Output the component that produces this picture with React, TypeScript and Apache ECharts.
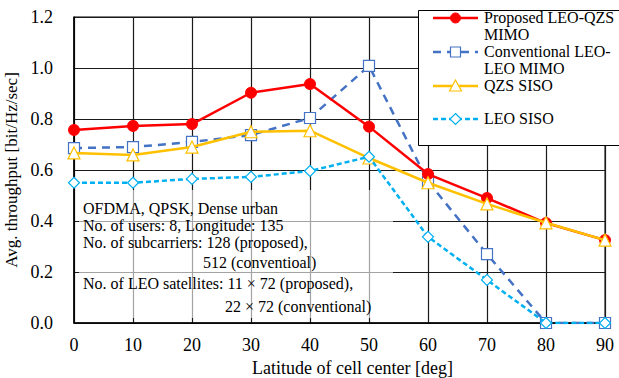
import React, { useEffect, useRef } from "react";
import * as echarts from "echarts";

const latitudes = [0, 10, 20, 30, 40, 50, 60, 70, 80, 90];
const proposedMimo = [0.757, 0.773, 0.78, 0.903, 0.937, 0.77, 0.584, 0.49, 0.392, 0.325];
const conventionalMimo = [0.686, 0.69, 0.71, 0.737, 0.804, 1.008, 0.555, 0.27, 0, 0];
const qzsSiso = [0.667, 0.659, 0.69, 0.75, 0.754, 0.647, 0.55, 0.467, 0.393, 0.325];
const leoSiso = [0.55, 0.55, 0.565, 0.573, 0.596, 0.652, 0.338, 0.169, 0, 0];

const seriesNames = [
  "Proposed LEO-QZS\nMIMO",
  "Conventional LEO-\nLEO MIMO",
  "QZS SISO",
  "LEO SISO",
];

const noteLines = [
  "OFDMA, QPSK, Dense urban",
  "No. of users: 8, Longitude: 135",
  "No. of subcarriers: 128 (proposed),",
  "512 (conventioal)",
  "No. of LEO satellites: 11 \u00d7 72 (proposed),",
  "22 \u00d7 72 (conventional)",
];

const FAM = "Liberation Serif";
const RED = "#ff0000";
const BLUE = "#4472c4";
const YELLOW = "#ffc000";
const CYAN = "#00b0f0";

const pairs = (ys: number[]) => latitudes.map((x, i) => [x, ys[i]]);

export default function App() {
  const ref = useRef<HTMLDivElement>(null);
  useEffect(() => {
    if (!ref.current) return;
    const chart = echarts.init(ref.current, undefined, { renderer: "svg" });

    const notePos = [
      [83, 208],
      [83, 225],
      [83, 242],
      [203, 262],
      [83, 283],
      [225, 306],
    ];
    const noteGraphics = noteLines.map((t, i) => ({
      type: "text",
      x: notePos[i][0],
      y: notePos[i][1],
      z: 5,
      style: {
        text: t,
        fontFamily: FAM,
        fontSize: 16,
        fill: "#000",
        verticalAlign: "middle",
      },
    }));

    const legendRows = [18, 52, 86, 119];
    const lx1 = 433, lx2 = 478, lmx = 455.5, ltx = 484;
    const legendGraphics: any[] = [
      {
        type: "rect",
        z: 10,
        shape: { x: 418.5, y: 10.5, width: 220, height: 135 },
        style: { fill: "#fff", stroke: "#000", lineWidth: 1 },
      },
      { type: "line", z: 11, shape: { x1: lx1, y1: legendRows[0], x2: lx2, y2: legendRows[0] }, style: { stroke: RED, lineWidth: 2.5 } },
      { type: "circle", z: 12, shape: { cx: lmx, cy: legendRows[0], r: 5 }, style: { fill: RED, stroke: RED } },
      { type: "line", z: 11, shape: { x1: lx1, y1: legendRows[1], x2: lx2, y2: legendRows[1] }, style: { stroke: BLUE, lineWidth: 2.5, lineDash: [8, 6] } },
      { type: "rect", z: 12, shape: { x: lmx - 5, y: legendRows[1] - 5, width: 10, height: 10 }, style: { fill: "#fff", stroke: BLUE, lineWidth: 1.2 } },
      { type: "line", z: 11, shape: { x1: lx1, y1: legendRows[2], x2: lx2, y2: legendRows[2] }, style: { stroke: YELLOW, lineWidth: 2.5 } },
      { type: "polygon", z: 12, shape: { points: [[lmx, legendRows[2] - 6], [lmx + 6, legendRows[2] + 5], [lmx - 6, legendRows[2] + 5]] }, style: { fill: "#fff", stroke: YELLOW, lineWidth: 1.2 } },
      { type: "line", z: 11, shape: { x1: lx1, y1: legendRows[3], x2: lx2, y2: legendRows[3] }, style: { stroke: CYAN, lineWidth: 2.5, lineDash: [5, 3] } },
      { type: "polygon", z: 12, shape: { points: [[lmx, legendRows[3] - 5.5], [lmx + 5.5, legendRows[3]], [lmx, legendRows[3] + 5.5], [lmx - 5.5, legendRows[3]]] }, style: { fill: "#fff", stroke: CYAN, lineWidth: 1.2 } },
    ];
    seriesNames.forEach((name, i) => {
      legendGraphics.push({
        type: "text",
        z: 12,
        x: ltx,
        y: legendRows[i] - 9,
        style: { text: name, fontFamily: FAM, fontSize: 16, fill: "#000", lineHeight: 17, verticalAlign: "top" },
      });
    });

    const axisText = { fontFamily: FAM, fontSize: 18, color: "#000" };

    chart.setOption({
      animation: false,
      backgroundColor: "#fff",
      textStyle: { fontFamily: FAM },
      grid: {
        left: 74,
        right: 14,
        top: 17,
        bottom: 55,
        containLabel: false,
        outerBoundsMode: "none",
        show: true,
        borderColor: "#000",
        borderWidth: 1,
      },
      xAxis: {
        type: "value",
        min: 0,
        max: 90,
        interval: 10,
        name: "Latitude of cell center [deg]",
        nameLocation: "middle",
        nameGap: 35,
        nameTextStyle: { ...axisText, padding: [0, 0, 0, 26] },
        axisLine: { lineStyle: { color: "#000", width: 1.5 } },
        axisTick: { show: false },
        axisLabel: { ...axisText, margin: 13 },
        splitLine: { show: true, lineStyle: { color: "#1a1a1a", width: 1.2 } },
      },
      yAxis: {
        type: "value",
        min: 0,
        max: 1.2,
        interval: 0.2,
        name: "Avg. throughput [bit/Hz/sec]",
        nameLocation: "middle",
        nameGap: 50,
        nameTextStyle: { ...axisText, fontSize: 17 },
        axisLine: { show: true, lineStyle: { color: "#000", width: 1.5 } },
        axisTick: { show: false },
        axisLabel: { ...axisText, margin: 21, formatter: (v: number) => v.toFixed(1) },
        splitLine: { show: true, lineStyle: { color: "#1a1a1a", width: 1.2 } },
      },
      graphic: [
        {
          type: "rect",
          z: 1,
          shape: { x: 79, y: 190, width: 314, height: 128 },
          style: { fill: "rgba(255,255,255,0.6)" },
        },
        ...noteGraphics,
        ...legendGraphics,
      ],
      series: [
        {
          name: seriesNames[1],
          type: "line",
          data: pairs(conventionalMimo),
          symbol: "rect",
          symbolSize: 11,
          z: 3,
          lineStyle: { color: BLUE, width: 2.5, type: [8, 6] },
          itemStyle: { color: "#fff", borderColor: BLUE, borderWidth: 1.2 },
        },
        {
          name: seriesNames[0],
          type: "line",
          data: pairs(proposedMimo),
          symbol: "circle",
          symbolSize: 11,
          z: 4,
          lineStyle: { color: RED, width: 2.5 },
          itemStyle: { color: RED, borderColor: RED },
        },
        {
          name: seriesNames[2],
          type: "line",
          data: pairs(qzsSiso),
          symbol: "triangle",
          symbolSize: 12,
          z: 5,
          lineStyle: { color: YELLOW, width: 2.5 },
          itemStyle: { color: "#fff", borderColor: YELLOW, borderWidth: 1.2 },
        },
        {
          name: seriesNames[3],
          type: "line",
          data: pairs(leoSiso),
          symbol: "diamond",
          symbolSize: 11,
          z: 6,
          lineStyle: { color: CYAN, width: 2.5, type: [5, 3] },
          itemStyle: { color: "#fff", borderColor: CYAN, borderWidth: 1.2 },
        },
      ],
    });
    return () => chart.dispose();
  }, []);
  return <div ref={ref} style={{ width: 619, height: 378, position: "absolute", left: 0, top: 0 }} />;
}
